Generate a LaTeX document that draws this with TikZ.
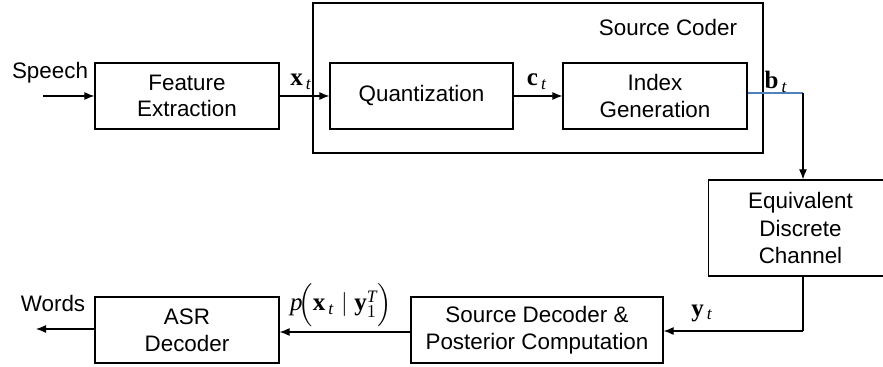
\documentclass[tikz,border=0pt]{standalone}
\usepackage{amsmath}
\usepackage{fontspec}
\setmainfont{Liberation Sans}
\setmathrm{Liberation Serif}
\usetikzlibrary{arrows.meta}
\begin{document}
\begin{tikzpicture}[x=0.5pt,y=-0.5pt,
  blk/.style={draw, line width=0.6pt, minimum width=92pt, minimum height=33pt, inner sep=0pt, align=center, font=\fontsize{11.2}{13.4}\selectfont},
  lbl/.style={inner sep=0pt, font=\fontsize{11.2}{13.4}\selectfont},
  mlbl/.style={inner sep=0pt, font=\fontsize{12.5}{15}\selectfont},
  conn/.style={line width=0.6pt, -{Latex[length=5pt,width=4pt]}},
  plain/.style={line width=0.6pt}]
\useasboundingbox (0,0) rectangle (883,367);
% source coder frame
\node[draw, line width=0.6pt, minimum width=225pt, minimum height=75pt, inner sep=0pt] (sc) at (538,78) {};
\node[lbl] (sctext) at (668,28) {Source Coder};
% blocks
\node[blk] (fe) at (187,96) {Feature\\Extraction};
\node[blk, minimum width=91.5pt] (qu) at (421.5,96) {Quantization};
\node[blk] (ig) at (655,96) {Index\\Generation};
\node[blk, minimum height=48pt, font=\fontsize{11.2}{13.9}\selectfont] (ch) at (800.5,228) {Equivalent\\Discrete\\Channel};
\node[blk, minimum width=126pt] (sd) at (537,330) {Source Decoder \&\\Posterior Computation};
\node[blk] (asr) at (187,330) {ASR\\Decoder};
% inputs / outputs
\node[lbl] (speech) at (50,73) {Speech};
\coordinate (sin) at (43,96);
\node[lbl] (words) at (53,303) {Words};
\coordinate (wout) at (36,329);
\coordinate (bc) at (803,93);
\coordinate (yc) at (803,331);
% connectors
\draw[conn] (sin) -- (fe.west |- sin);
\draw[conn] (fe) -- (qu);
\draw[conn] (qu) -- (ig);
\draw[plain, draw={rgb,255:red,79;green,129;blue,189}] (ig.east |- bc) -- (bc);
\draw[conn] (bc) -- (ch.north -| bc);
\draw[plain] (ch.south -| yc) -- (yc);
\draw[conn] (yc) -- (sd.east |- yc);
\draw[conn] (sd.west |- 0,332) -- (asr.east |- 0,332);
\draw[conn] (asr.west |- wout) -- (wout);
% labels
\node[mlbl] (xt) at (301,82) {$\mathbf{x}_{\,\mathit{t}}$};
\node[mlbl] (ct) at (537,82) {$\mathbf{c}_{\,\mathit{t}}$};
\node[mlbl] (bt) at (776,82) {$\mathbf{b}_{\,\mathit{t}}$};
\node[mlbl] (yt) at (702,313) {$\mathbf{y}_{\,\mathit{t}}$};
\node[mlbl] (post) at (341,305) {$\mathit{p}\!\Bigl(\mathbf{x}_{\,\mathit{t}} \mid \mathbf{y}_{1}^{\mathit{T}}\Bigr)$};
\end{tikzpicture}
\end{document}
